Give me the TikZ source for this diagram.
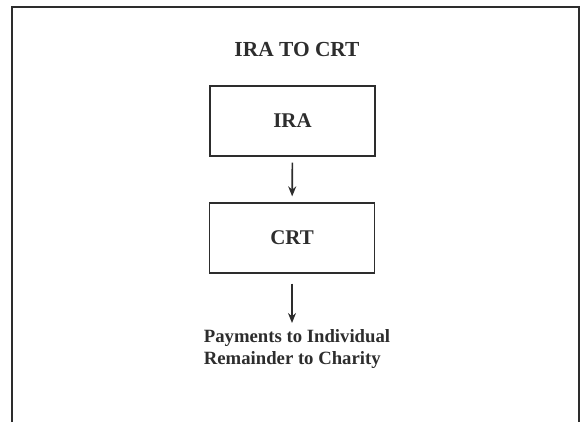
\documentclass[tikz,border=0pt]{standalone}
\usepackage{fontspec}
\setmainfont{Liberation Serif}
\usetikzlibrary{arrows.meta,positioning}
\definecolor{inkgray}{RGB}{45,45,45}

\begin{document}
\begin{tikzpicture}[x=1bp,y=-1bp,font=\bfseries,
    box/.style={draw=inkgray,line width=1.3bp,minimum width=165bp,minimum height=70bp,
      text=inkgray,font=\fontsize{21}{24}\selectfont\bfseries},
    a/.style={-{Stealth[length=10bp,width=8bp]},line width=1.6bp,draw=inkgray,
      shorten <=6bp,shorten >=6bp}]
    \useasboundingbox (0,0) rectangle (581,422);
    \draw[inkgray,line width=2bp] (12,422)--(12,7)--(579,7)--(579,422);
    \node[text=inkgray,font=\fontsize{21.5}{24}\selectfont\bfseries] (title) at (297,50) {IRA TO CRT};
    \node[box] (ira) at (292.5,121) {IRA};
    \node[box] (crt) at (292,238) {CRT};
    \node[text=inkgray,align=left,anchor=north,inner sep=0pt,
      font=\fontsize{18.8}{22}\selectfont\bfseries] (pay) at (297,329)
      {Payments to Individual\\Remainder to Charity};
    \draw[a] (ira)--(crt);
    \draw[a] ([yshift=-4bp]crt.south)--(crt.south|-pay.north);
  \end{tikzpicture}
\end{document}
